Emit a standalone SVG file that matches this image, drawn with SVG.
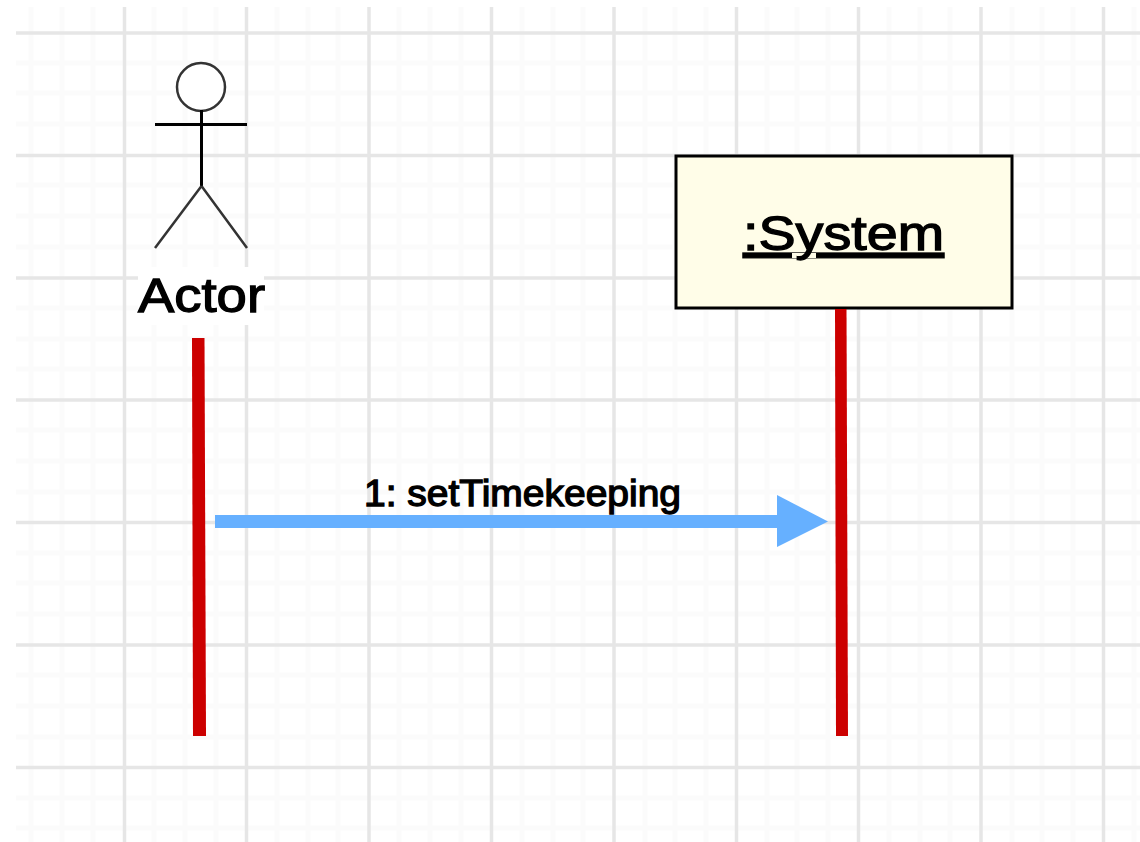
<svg xmlns="http://www.w3.org/2000/svg" width="1140" height="842" viewBox="0 0 1140 842">
<style>
.minor{stroke:#fbfbfb;stroke-width:5;fill:none}
.major{stroke:#e6e6e6;stroke-width:3.5;fill:none}
.fig{stroke:#000;stroke-width:3;fill:none}
.leg{stroke:#333;stroke-width:2.500;fill:none}
.life{fill:#cc0000}
text{font-family:"Liberation Sans",Arial,sans-serif;fill:#000;stroke:#000;stroke-width:1.300}
</style>
<rect width="1140" height="842" fill="#fff"/>
<g id="grid">
<path class="minor" d="M31 7V842M62 7V842M93 7V842M154 7V842M185 7V842M216 7V842M277 7V842M308 7V842M338 7V842M399 7V842M430 7V842M461 7V842M522 7V842M553 7V842M583 7V842M645 7V842M675 7V842M706 7V842M767 7V842M797 7V842M828 7V842M889 7V842M920 7V842M950 7V842M1012 7V842M1042 7V842M1073 7V842M1134 7V842"/>
<path class="minor" d="M16 63H1140M16 93H1140M16 124H1140M16 185H1140M16 216H1140M16 247H1140M16 308H1140M16 339H1140M16 369H1140M16 430H1140M16 461H1140M16 492H1140M16 553H1140M16 583H1140M16 614H1140M16 675H1140M16 706H1140M16 737H1140M16 798H1140M16 828H1140"/>
<path class="major" d="M124.500 7V842M246.500 7V842M369 7V842M491.500 7V842M614 7V842M736.500 7V842M858.500 7V842M981 7V842M1103.500 7V842"/>
<path class="major" d="M16 33H1140M16 155.500H1140M16 278H1140M16 400H1140M16 522.500H1140M16 645H1140M16 767.500H1140"/>
</g>
<g id="actor">
<rect x="138" y="267" width="126" height="58" fill="#fff"/>
<circle cx="201" cy="87" r="24" fill="#fff" stroke="#333" stroke-width="2.500"/>
<path class="fig" d="M201.500 110V186M155 124.500H247"/>
<path class="leg" d="M201.500 186L155 248M201.500 186L247 248"/>
<text x="138" y="312" font-size="48" textLength="127" lengthAdjust="spacingAndGlyphs">Actor</text>
</g>
<g id="system">
<rect x="676" y="156" width="336" height="152" fill="#fffde8" stroke="#000" stroke-width="3"/>
<text x="743" y="250" font-size="48" textLength="201" lengthAdjust="spacingAndGlyphs" text-decoration="underline">:System</text>
</g>
<g id="connectors">
<polygon class="life" points="192,338 204.500,338 206,736 193,736"/>
<polygon class="life" points="835,309 846.500,309 848,736 836,736"/>
<g id="message">
<rect x="215" y="515" width="563" height="13" fill="#66b0ff"/>
<polygon points="777,495 828,521.500 777,547" fill="#66b0ff"/>
</g>
<text x="364" y="506" font-size="36" textLength="317" lengthAdjust="spacingAndGlyphs" stroke-width=".8">1: setTimekeeping</text>
</g>
</svg>
